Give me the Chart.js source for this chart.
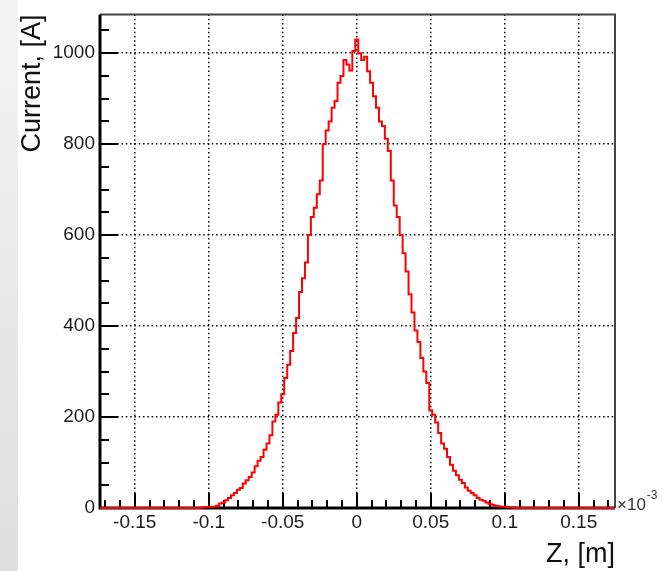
<!DOCTYPE html>
<html>
<head>
<meta charset="utf-8">
<script src="https://cdn.jsdelivr.net/npm/chart.js@4/dist/chart.umd.min.js"></script>
<style>
  html, body { margin: 0; padding: 0; background: #fff; }
  #strip { position: absolute; left: 0; top: 0; width: 18px; height: 571px;
           background: linear-gradient(to bottom, #f4f4f4, #dedede); }
  #chart { position: absolute; left: 0; top: 0; }
</style>
</head>
<body>
<div id="strip"></div>
<canvas id="chart" width="672" height="571"></canvas>
<script>
// bin centres along Z (axis labels are in units of 10^-3 m)
const zCenters = [
  -0.1735,
  -0.110, -0.108, -0.106, -0.104, -0.102, -0.100, -0.098, -0.096, -0.094, -0.092,
  -0.090, -0.088, -0.086, -0.084, -0.082, -0.080, -0.078, -0.076, -0.074, -0.072,
  -0.070, -0.068, -0.066, -0.064, -0.062, -0.060, -0.058, -0.056, -0.054, -0.052,
  -0.050, -0.048, -0.046, -0.044, -0.042, -0.040, -0.038, -0.036, -0.034, -0.032,
  -0.030, -0.028, -0.026, -0.024, -0.022, -0.020, -0.018, -0.016, -0.014, -0.012,
  -0.010, -0.008, -0.006, -0.004, -0.002,
  0.000,
  0.002, 0.004, 0.006, 0.008, 0.010, 0.012, 0.014, 0.016, 0.018, 0.020,
  0.022, 0.024, 0.026, 0.028, 0.030, 0.032, 0.034, 0.036, 0.038, 0.040,
  0.042, 0.044, 0.046, 0.048, 0.050, 0.052, 0.054, 0.056, 0.058, 0.060,
  0.062, 0.064, 0.066, 0.068, 0.070, 0.072, 0.074, 0.076, 0.078, 0.080,
  0.082, 0.084, 0.086, 0.088, 0.090, 0.092, 0.094, 0.096, 0.098, 0.100,
  0.102, 0.104, 0.106, 0.108, 0.110,
  0.1745
];

// current per bin [A]
const current = [
  0,
  0, 0, 0, 1, 2, 2, 3, 3, 5, 10,
  12, 17, 22, 28, 33, 40, 44, 54, 61, 68,
  78, 92, 104, 112, 128, 142, 160, 190, 205, 232,
  250, 286, 315, 345, 385, 418, 475, 505, 540, 600,
  640, 660, 690, 720, 800, 830, 850, 880, 895, 935,
  950, 985, 975, 962, 1005,
  1030,
  1000, 985, 992, 960, 935, 905, 880, 850, 840, 812,
  785, 720, 665, 640, 600, 560, 520, 470, 430, 390,
  365, 330, 300, 275, 215, 205, 188, 165, 142, 130,
  112, 95, 82, 72, 62, 55, 45, 38, 33, 28,
  22, 18, 16, 12, 9, 7, 5, 4, 3, 3,
  2, 1, 1, 0, 0,
  0
];

const xMin = -0.1735, xMax = 0.1745;
const yMin = 0, yMax = 1085;

const isMajorX = v => Math.abs(Math.round(v * 1000)) % 50 === 0;
const isMajorY = v => Math.round(v) % 200 === 0;

const font = '"Liberation Sans", Arial, sans-serif';

// ROOT-like frame: ticks inside the frame, thick left/bottom axes
const rootAxes = {
  id: 'rootAxes',
  beforeDatasetsDraw(chart) {
    const { ctx, chartArea: a, scales: { x, y } } = chart;
    ctx.save();
    ctx.strokeStyle = '#444';
    ctx.lineWidth = 2;
    ctx.beginPath();
    ctx.moveTo(a.left, a.top);
    ctx.lineTo(a.right, a.top);
    ctx.lineTo(a.right, a.bottom);
    ctx.stroke();

    ctx.strokeStyle = '#000';
    ctx.lineWidth = 2;
    ctx.beginPath();
    x.ticks.forEach(t => {
      const px = Math.round(x.getPixelForValue(t.value));
      const len = isMajorX(t.value) ? 15 : 8;
      ctx.moveTo(px, a.bottom);
      ctx.lineTo(px, a.bottom - len);
    });
    y.ticks.forEach(t => {
      const py = Math.round(y.getPixelForValue(t.value));
      const len = isMajorY(t.value) ? 18 : 9;
      ctx.moveTo(a.left, py);
      ctx.lineTo(a.left + len, py);
    });
    ctx.stroke();

    ctx.lineWidth = 3;
    ctx.beginPath();
    ctx.moveTo(a.left, a.top);
    ctx.lineTo(a.left, a.bottom);
    ctx.lineTo(a.right, a.bottom);
    ctx.stroke();
    ctx.restore();
  },
  afterDraw(chart) {
    const { ctx, chartArea: a } = chart;
    ctx.save();
    ctx.fillStyle = '#333';
    ctx.textBaseline = 'alphabetic';
    ctx.font = '17px ' + font;
    ctx.fillText('×10', a.right + 2, a.bottom + 2);
    const w = ctx.measureText('×10').width;
    ctx.font = '12px ' + font;
    ctx.fillText('-3', a.right + 3 + w, a.bottom - 9);
    ctx.restore();
  }
};

new Chart(document.getElementById('chart'), {
  type: 'line',
  data: {
    datasets: [{
      data: zCenters.map((z, i) => ({ x: z, y: current[i] })),
      borderColor: '#ff0000',
      borderWidth: 2,
      stepped: 'middle',
      pointRadius: 0,
      fill: false,
      clip: 3
    }]
  },
  options: {
    responsive: false,
    animation: false,
    layout: { padding: { left: 0, top: 11, right: 57, bottom: 0 } },
    plugins: { legend: { display: false }, tooltip: { enabled: false } },
    scales: {
      x: {
        type: 'linear',
        min: xMin,
        max: xMax,
        afterFit: s => { s.height = 63; },
        ticks: {
          stepSize: 0.01,
          includeBounds: false,
          autoSkip: false,
          maxRotation: 0,
          padding: 3,
          color: '#1a1a1a',
          font: { family: font, size: 19 },
          callback: v => isMajorX(v) ? String(Math.round(v * 100) / 100) : ''
        },
        grid: {
          drawTicks: false,
          lineWidth: 1.5,
          color: c => (c.tick && isMajorX(c.tick.value)) ? '#000' : 'rgba(0,0,0,0)'
        },
        border: { display: false, dash: [1.5, 2.8] },
        title: {
          display: true,
          text: 'Z, [m]',
          align: 'end',
          color: '#111',
          font: { family: font, size: 27 },
          padding: { top: 0, bottom: 0 }
        }
      },
      y: {
        min: yMin,
        max: yMax,
        afterFit: s => { s.width = 100; },
        ticks: {
          stepSize: 50,
          includeBounds: false,
          autoSkip: false,
          padding: 5,
          color: '#1a1a1a',
          font: { family: font, size: 19, lineHeight: 1 },
          callback: v => isMajorY(v) ? String(v) : ''
        },
        grid: {
          drawTicks: false,
          lineWidth: 1.5,
          color: c => (c.tick && isMajorY(c.tick.value) && c.tick.value > 0) ? '#000' : 'rgba(0,0,0,0)'
        },
        border: { display: false, dash: [1.5, 2.8] },
        title: {
          display: true,
          text: 'Current, [A]',
          align: 'end',
          color: '#111',
          font: { family: font, size: 27 },
          padding: { top: 16, bottom: 0 }
        }
      }
    }
  },
  plugins: [rootAxes]
});
</script>
</body>
</html>
